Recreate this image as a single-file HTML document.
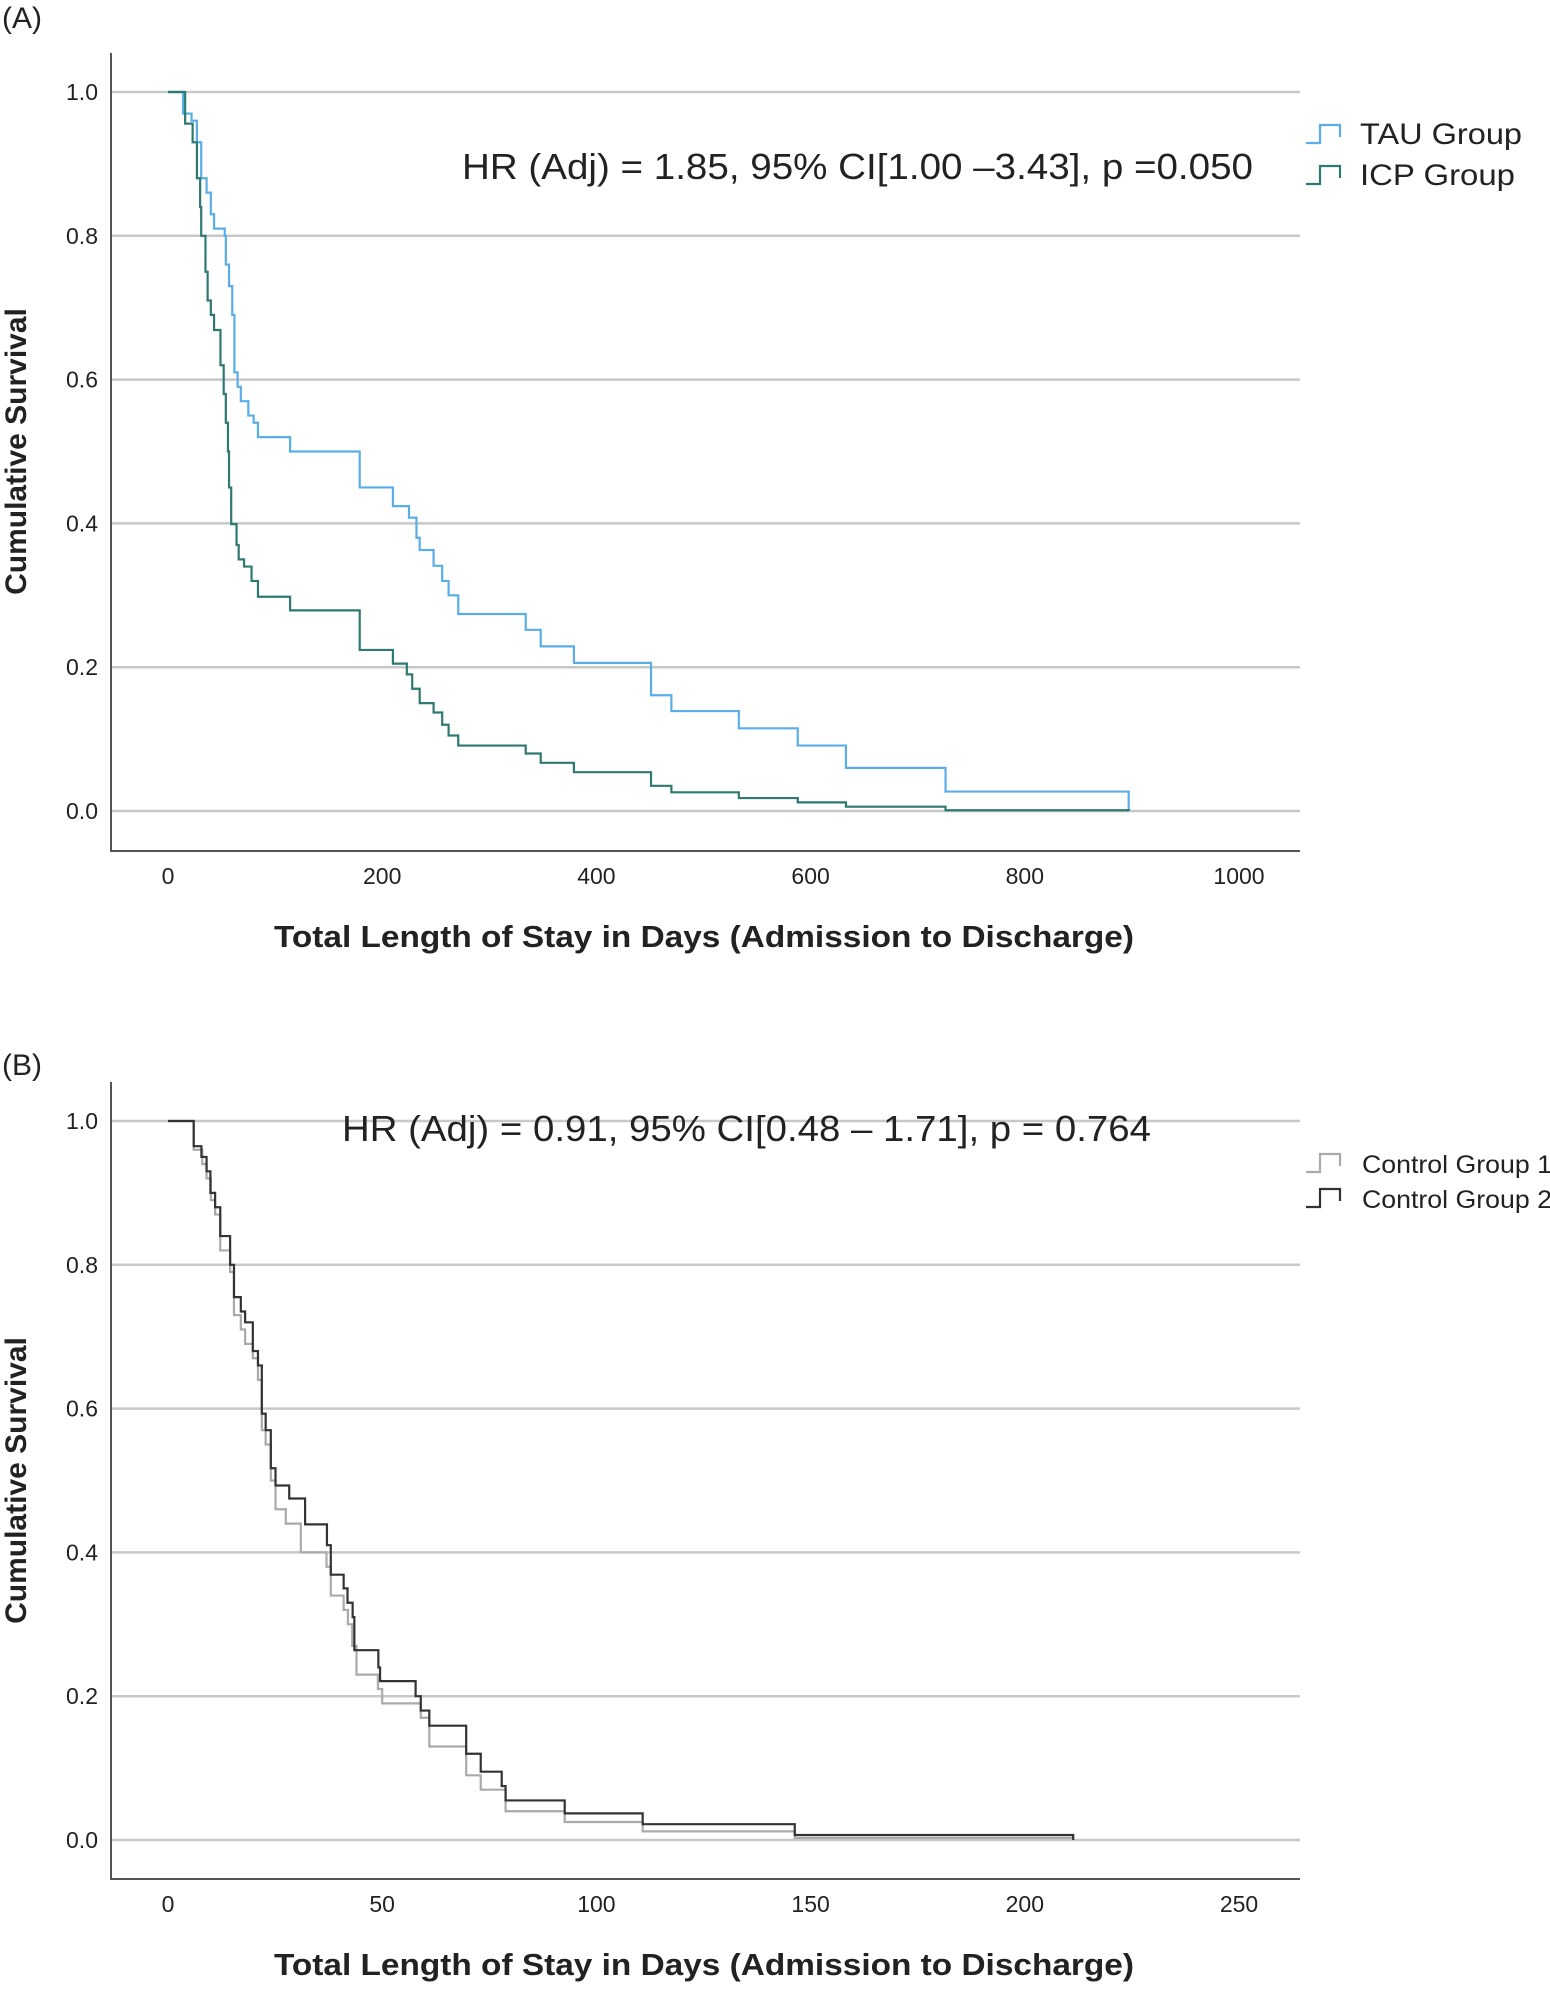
<!DOCTYPE html>
<html><head><meta charset="utf-8"><style>
body{margin:0;background:#fff}
svg text{font-family:"Liberation Sans",sans-serif;fill:#222}
</style></head><body>
<svg id="s" width="1550" height="1984" viewBox="0 0 1550 1984">
<text x="2" y="28" font-size="30">(A)</text>
<text x="2" y="1075" font-size="30">(B)</text>
</svg>
<script>
// Panel A data
const aTicksX=[0,200,400,600,800,1000];
const yTicks=[0.0,0.2,0.4,0.6,0.8,1.0];
const tauT=[14,22,27,31,36,40,43,53,54,57,60,62,65,68,75,80,84,114,179,210,225,232,235,248,256,262,271,334,348,379,451,470,533,588,633,726,897];
const tauS=[0.97,0.96,0.93,0.88,0.86,0.83,0.81,0.80,0.76,0.73,0.69,0.61,0.59,0.57,0.55,0.54,0.52,0.50,0.45,0.424,0.408,0.38,0.363,0.341,0.32,0.30,0.274,0.252,0.229,0.206,0.161,0.139,0.115,0.091,0.060,0.027,0.0];
const icpT=[16,23,27,30,31,35,37,40,43,49,52,54,56,57,59,64,66,71,78,84,114,179,210,223,228,235,248,256,262,271,334,348,379,451,470,533,588,633,726,897];
const icpS=[0.956,0.93,0.88,0.84,0.80,0.75,0.71,0.69,0.669,0.62,0.58,0.54,0.50,0.45,0.399,0.37,0.35,0.34,0.32,0.298,0.279,0.224,0.205,0.19,0.17,0.15,0.137,0.12,0.105,0.091,0.08,0.067,0.054,0.035,0.026,0.018,0.012,0.006,0.001,0.0];
// Panel B data
const bTicksX=[0,50,100,150,200,250];
const c1T=[6,8,9,10,11,12.2,14.5,15.4,17,18,19.8,21,21.9,22.8,24,25.1,27.5,31,37,38,41,42,43,44,49,50,59,61,69.6,73,78.8,92.6,110.8,146.3,211.3];
const c1S=[0.96,0.94,0.92,0.89,0.87,0.82,0.79,0.73,0.71,0.69,0.67,0.64,0.57,0.55,0.50,0.46,0.44,0.40,0.38,0.34,0.32,0.30,0.27,0.23,0.21,0.19,0.17,0.13,0.09,0.07,0.04,0.025,0.012,0.003,0.0];
const c2T=[6,7.8,9,9.9,11,12.2,14.5,15.4,17,18,19.8,21,21.9,22.8,24,25.1,28.3,32,37.1,38,41,41.9,43.1,43.5,49.1,49.5,57.8,59,61,69.6,73,77.9,78.8,92.6,110.8,146.3,211.3];
const c2S=[0.965,0.95,0.93,0.90,0.88,0.84,0.80,0.755,0.735,0.72,0.68,0.66,0.593,0.57,0.517,0.493,0.475,0.439,0.41,0.369,0.35,0.33,0.31,0.264,0.24,0.221,0.20,0.18,0.159,0.12,0.095,0.075,0.055,0.037,0.022,0.007,0.0];

const svg=document.getElementById('s');
const NS='http://www.w3.org/2000/svg';
function mk(tag,attrs,txt){const e=document.createElementNS(NS,tag);for(const k in attrs)e.setAttribute(k,attrs[k]);if(txt!==undefined)e.textContent=txt;svg.appendChild(e);return e;}

function panel(p){
  const X=v=>p.x0+(v-p.xmin)/(p.xmax-p.xmin)*(p.x1-p.x0);
  const Y=v=>p.y0+(1-v)*(p.y1-p.y0)*1; // y0 = pos of 1.0, y1 = pos of 0.0
  const Yv=v=>p.y1-(v)*(p.y1-p.y0);
  yTicks.forEach(t=>{
    const g=mk('line',{x1:111,x2:1300,y1:Yv(t),y2:Yv(t),stroke:'#c8c8c8','stroke-width':2.5});
    
    
    const l=mk('text',{x:98,y:Yv(t)+8,'font-size':23,'text-anchor':'end'},t.toFixed(1));
    
    
  });
  const ax=mk('path',{d:`M111 ${p.top} V${p.bot} H1300`,fill:'none',stroke:'#555','stroke-width':2});
  
  
  p.ticks.forEach(t=>{
    const l=mk('text',{x:X(t),y:p.bot+33,'font-size':23,'text-anchor':'middle'},String(t));
    
    
  });
  const xt=mk('text',{x:704,y:p.bot+96,'font-size':31,'font-weight':'bold','text-anchor':'middle',textLength:860,lengthAdjust:'spacingAndGlyphs'},'Total Length of Stay in Days (Admission to Discharge)');
  
  
  const cy=(p.y0+p.y1)/2;
  const yt=mk('text',{x:0,y:0,'font-size':30,'font-weight':'bold','text-anchor':'middle',transform:`translate(26 ${cy}) rotate(-90)`},'Cumulative Survival');
  
  
  const ht=mk('text',{x:p.hrx,y:p.hry,'font-size':36,textLength:p.hrw,lengthAdjust:'spacingAndGlyphs'},p.hr);
  
  
  p.series.forEach((s,i)=>{
    let d=`M${X(0)} ${Yv(1)}`;let cur=1;
    for(let k=0;k<s.t.length;k++){d+=` H${X(s.t[k])} V${Yv(s.s[k])}`;cur=s.s[k];}
    const pa=mk('path',{d,fill:'none',stroke:s.c,'stroke-width':2.2});
    
    
    const ly=p.legY[i];
    const lg=mk('path',{d:`M${p.legX} ${ly+8} h14 v-18 h20 v12`,fill:'none',stroke:s.c,'stroke-width':2.2});
    
    
    const lt=mk('text',{x:p.legX+p.legTx,y:ly+9,'font-size':p.legFs,textLength:p.legW[i],lengthAdjust:'spacingAndGlyphs'},s.label);
    
    
  });
}
panel({x0:168,x1:1239,xmin:0,xmax:1000,y0:92,y1:811,top:53,bot:851,ticks:aTicksX,
  hr:'HR (Adj) = 1.85, 95% CI[1.00 –3.43], p =0.050',hrx:462,hry:179,hrw:791,
  legX:1306,legY:[135,176],legTx:54,legFs:30,legW:[162,155],
  series:[{name:'tau-group',label:'TAU Group',c:'#5aaee8',t:tauT,s:tauS},{name:'icp-group',label:'ICP Group',c:'#2e7a72',t:icpT,s:icpS}]});
panel({x0:168,x1:1239,xmin:0,xmax:250,y0:1121,y1:1840,top:1082,bot:1879,ticks:bTicksX,
  hr:'HR (Adj) = 0.91, 95% CI[0.48 – 1.71], p = 0.764',hrx:342,hry:1141,hrw:809,
  legX:1306,legY:[1164,1199],legTx:56,legFs:25,legW:[190,190],
  series:[{name:'control-group-1',label:'Control Group 1',c:'#aaaaaa',t:c1T,s:c1S},{name:'control-group-2',label:'Control Group 2',c:'#333333',t:c2T,s:c2S}]});
</script>
</body></html>
